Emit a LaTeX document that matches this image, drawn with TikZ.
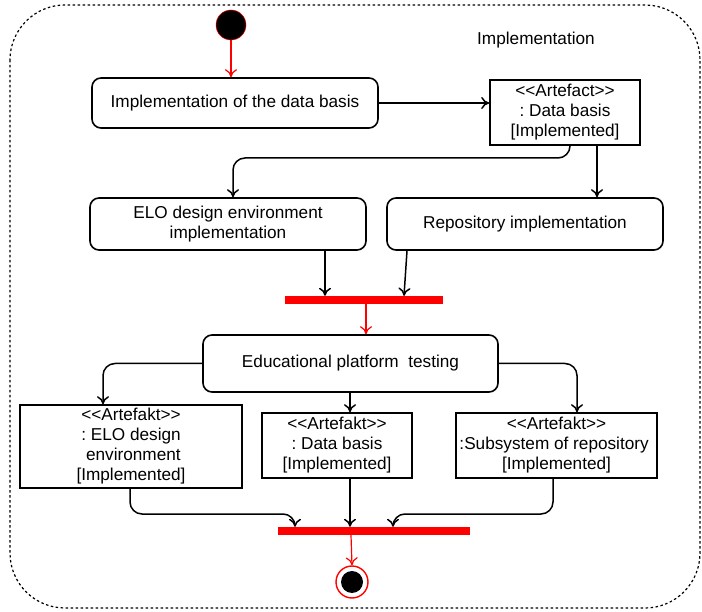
\documentclass[tikz,border=0pt]{standalone}
\usepackage{fontspec}
\setmainfont{Liberation Sans}
\usetikzlibrary{arrows.meta}
\newcommand{\stereo}[1]{{<}{<}#1{>}{>}}
\frenchspacing
\begin{document}
\begin{tikzpicture}[x=1pt,y=-1pt,
  font=\fontsize{17.2}{20}\selectfont,
  act/.style={draw,line width=1.6pt,rounded corners=9pt,align=center},
  art/.style={draw,line width=1.6pt,align=center},
  flow/.style={draw,line width=1.5pt,-{To[length=8pt,width=12pt]},rounded corners=12pt},
  rflow/.style={draw=red,line width=1.2pt,-{To[length=8pt,width=12pt]}},
  bar/.style={fill=red,draw=none}]
\useasboundingbox (0,0) rectangle (702,612);
\draw[line width=1.2pt,dash pattern=on 2.5pt off 2.5pt,rounded corners=55pt] (10,5) rectangle (700,608);
\node at (536,40) {Implementation};
% start
\node (start) [circle,fill=black,draw=red,line width=0.5pt,minimum size=30pt,inner sep=0pt] at (231,25) {};
\node (a1) [act,minimum width=286pt,minimum height=50pt] at (235,103) {Implementation of the data basis};
\node (r1) [art,minimum width=150pt,minimum height=65pt,inner sep=1pt] at (565,112.5) {\stereo{Artefact}\\: Data basis\\{}[Implemented]};
\node (a2) [act,minimum width=276pt,minimum height=52pt,inner sep=1pt] at (228,224) {ELO design environment\\implementation};
\node (a3) [act,minimum width=276pt,minimum height=52pt] at (525,224) {Repository implementation};
\node (b1) [bar,minimum width=158pt,minimum height=8pt,inner sep=0pt] at (364,300) {};
\node (a4) [act,minimum width=295pt,minimum height=57pt] at (350.5,363.5) {Educational platform\ \ testing};
\node (r2) [art,minimum width=222pt,minimum height=83pt,inner sep=1pt] at (131,446.5) {\stereo{Artefakt}\\: ELO design\\\ environment\\{}[Implemented]};
\node (r3) [art,minimum width=150pt,minimum height=65pt,inner sep=1pt] at (337,445.5) {\stereo{Artefakt}\\: Data basis\\{}[Implemented]};
\node (r4) [art,minimum width=201pt,minimum height=65pt,inner sep=1pt] at (556.5,445.5) {\stereo{Artefakt}\\\llap{:}Subsystem of repository\\{}[Implemented]};
\node (b2) [bar,minimum width=192pt,minimum height=8pt,inner sep=0pt] at (374,531) {};
\node (endo) [circle,draw=red,line width=1.4pt,fill=white,minimum size=32pt,inner sep=0pt] at (352,582) {};
\node (endi) [circle,fill=black,minimum size=22pt,inner sep=0pt] at (352,582) {};
% connectors
\draw[rflow] (start.south) -- (a1.north -| start);
\draw[flow] (a1.east) -- (r1.west |- a1.east);
\draw[flow] (r1.south -| 570,0) |- (400,158) -| (a2.north -| 233,0);
\draw[flow] (r1.south -| 597,0) -- (a3.north -| 597,0);
\draw[flow] (a2.south -| 325,0) -- (b1.north -| 325,0);
\draw[flow] (a3.south -| 407,0) -- (b1.north -| 404,0);
\draw[rflow] (b1.south -| 366,0) -- (a4.north -| 366,0);
\draw[flow] (a4.west) -| (r2.north -| 103,0);
\draw[flow] (a4.south -| 350,0) -- (r3.north -| 350,0);
\draw[flow] (a4.east) -| (r4.north -| 577,0);
\draw[flow] (r2.south -| 130,0) |- (270,514) -| (b2.north -| 295,0);
\draw[flow] (r3.south -| 350,0) -- (b2.north -| 350,0);
\draw[flow] (r4.south -| 553,0) |- (420,514) -| (b2.north -| 393,0);
\draw[rflow] (b2.south -| 351,0) -- (endo.north);
\end{tikzpicture}
\end{document}
